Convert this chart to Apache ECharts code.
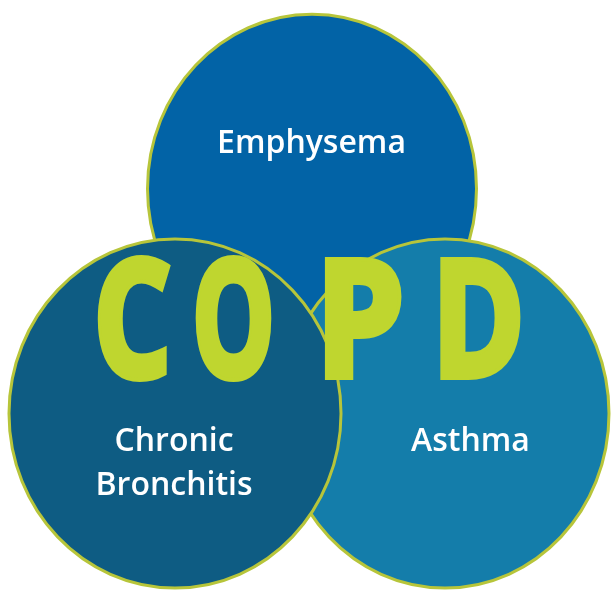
<!DOCTYPE html>
<html>
<head>
<meta charset="utf-8">
<style>
  html, body { margin: 0; padding: 0; background: #ffffff; }
  #chart { width: 613px; height: 591px; }
</style>
<script src="https://cdn.jsdelivr.net/npm/echarts@6/dist/echarts.min.js"></script>
</head>
<body>
<div id="chart"></div>
<script>
// ---- data ----
const setNames   = ['Emphysema', 'Asthma', 'Chronic Bronchitis'];
const setCenterX = [312, 445, 175];
const setCenterY = [188.7, 413.5, 413.5];
const setRadiusX = [164.5, 164, 166];
const setRadiusY = [174.5, 174.5, 174.5];
const labelLines = [['Emphysema'], ['Asthma'], ['Chronic', 'Bronchitis']];
const labelX     = [311.5, 470.5, 174];
const labelY     = [144, 442, 464];
const titleLetters = ['C', 'O', 'P', 'D'];

// ---- styles ----
const fillColors = ['#0263a6', '#147daa', '#0e5c83'];
const ringColor = '#b7c53a';
const letterColor = '#bfd62f';
const letterX = [132.5, 233.5, 360, 478.5];
const letterScale = [0.75, 0.64, 0.87, 0.77];

const circleData = setNames.map((n, i) => ({
  name: n,
  value: [setCenterX[i], setCenterY[i], setRadiusX[i], setRadiusY[i]]
}));
const labelData = setNames.map((n, i) => ({
  name: labelLines[i].join('\n'),
  value: [labelX[i], labelY[i]]
}));

const chart = echarts.init(document.getElementById('chart'), null, { renderer: 'canvas' });
chart.setOption({
  animation: false,
  backgroundColor: '#ffffff',
  grid: { left: 0, right: 0, top: 0, bottom: 0 },
  xAxis: { type: 'value', min: 0, max: 613, show: false },
  yAxis: { type: 'value', min: 0, max: 591, inverse: true, show: false },
  series: [
    {
      type: 'custom',
      data: circleData,
      z: 2,
      renderItem: function (params, api) {
        const c = api.coord([api.value(0), api.value(1)]);
        const s = api.size([api.value(2), api.value(3)]);
        return {
          type: 'ellipse',
          shape: { cx: c[0], cy: c[1], rx: s[0], ry: s[1] },
          style: { fill: fillColors[params.dataIndex], stroke: ringColor, lineWidth: 3 }
        };
      }
    },
    {
      type: 'scatter',
      data: labelData,
      symbolSize: 0,
      z: 5,
      itemStyle: { opacity: 1 },
      label: {
        show: true,
        position: 'inside',
        formatter: '{b}',
        color: '#ffffff',
        opacity: 1,
        fontFamily: 'Open Sans',
        fontWeight: 600,
        fontSize: 32,
        lineHeight: 44,
        align: 'center',
        verticalAlign: 'middle'
      }
    }
  ],
  graphic: titleLetters.map((t, i) => ({
    type: 'text',
    x: letterX[i],
    y: 330,
    scaleX: letterScale[i],
    z: 100,
    style: {
      text: t,
      x: 0, y: 0,
      fill: letterColor,
      stroke: letterColor,
      lineWidth: 8,
      font: 'bold 162px "Open Sans"',
      align: 'center',
      verticalAlign: 'middle'
    }
  }))
});
</script>
</body>
</html>
